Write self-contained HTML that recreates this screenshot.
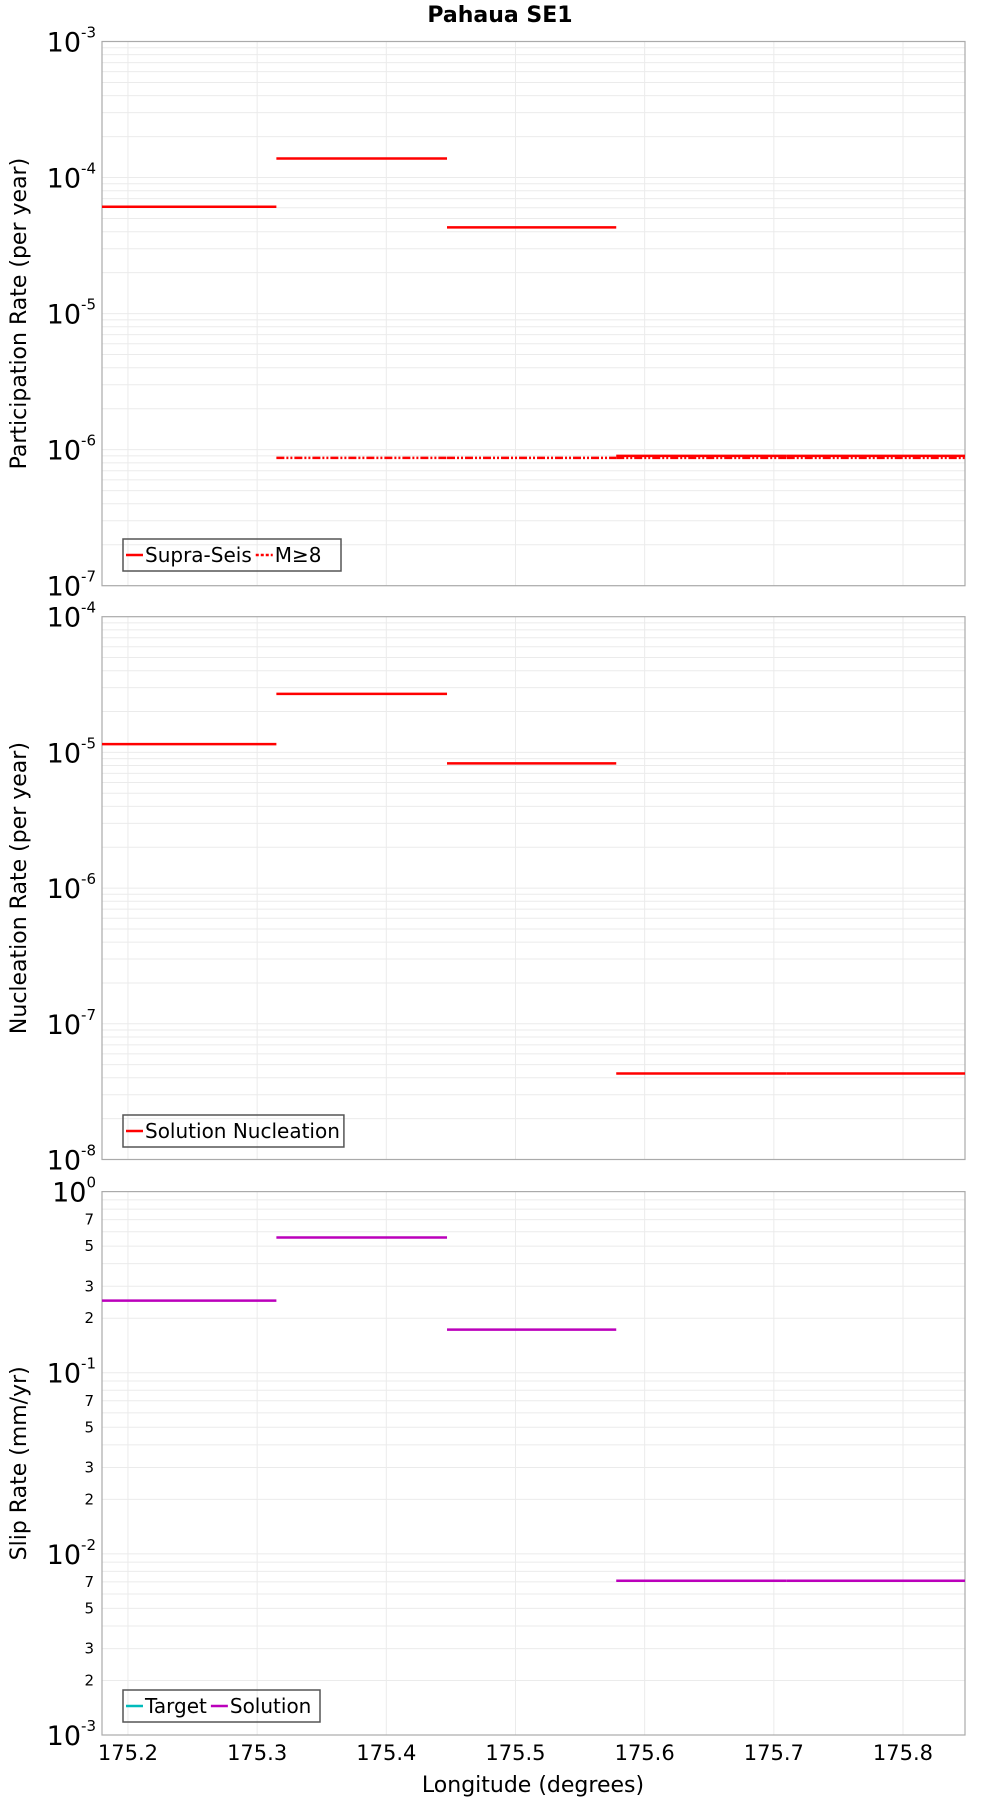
<!DOCTYPE html>
<html><head><meta charset="utf-8"><style>
html,body{margin:0;padding:0;background:#fff;}
svg{display:block;font-family:"DejaVu Sans","Liberation Sans",sans-serif;}
</style></head><body>
<svg id="chart" width="1000" height="1800" viewBox="0 0 1000 1800" xmlns="http://www.w3.org/2000/svg">
<text x="500" y="22" text-anchor="middle" font-weight="bold" font-size="22">Pahaua SE1</text>
<text x="533" y="1792" text-anchor="middle" font-size="22">Longitude (degrees)</text>
</svg>
<script>
// data
const xBreaks = [175.1799, 175.3149, 175.447, 175.578, 175.71, 175.848];
const xTicks = [175.2, 175.3, 175.4, 175.5, 175.6, 175.7, 175.8];
const partSupra = [6.1e-5, 1.38e-4, 4.3e-5, 9.0e-7, 9.0e-7];
const partM8 = [null, 8.7e-7, 8.7e-7, 8.7e-7, 8.7e-7];
const nuclSolution = [1.15e-5, 2.7e-5, 8.3e-6, 4.3e-8, 4.3e-8];
const slipSolution = [0.25, 0.558, 0.173, 0.0071, 0.0071];

const NS = "http://www.w3.org/2000/svg";
const svg = document.getElementById('chart');
const L = 102, R = 965;
const X0 = 175.1799, X1 = 175.848;
function xs(v){ return L + (v - X0) / (X1 - X0) * (R - L); }
function mk(tag, attrs, parent){
  const e = document.createElementNS(NS, tag);
  for (const k in attrs) e.setAttribute(k, attrs[k]);
  (parent || svg).appendChild(e);
  return e;
}

const panels = [
  {top:41.5, bot:585.7, emin:-7, emax:-3, ylabel:'Participation Rate (per year)', minorLabels:false,
   series:[{vals:partSupra, color:'#f00', dash:null, name:'supra-seis'},{vals:partM8, color:'#f00', dash:'8,2,2,2,2,2', name:'m8'}],
   legend:{x:123,y:539,w:218,items:[['Supra-Seis','#f00',false],['M≥8','#f00',true]]}, pname:'participation'},
  {top:616.7, bot:1159.5, emin:-8, emax:-4, ylabel:'Nucleation Rate (per year)', minorLabels:false,
   series:[{vals:nuclSolution, color:'#f00', dash:null, name:'solution-nucleation'}],
   legend:{x:123,y:1115,w:220,items:[['Solution Nucleation','#f00',false]]}, pname:'nucleation'},
  {top:1191.6, bot:1735, emin:-3, emax:0, ylabel:'Slip Rate (mm/yr)', minorLabels:true,
   series:[{vals:slipSolution, color:'#b0b', dash:null, name:'slip-solution'}],
   legend:{x:123,y:1690,w:197,items:[['Target','#0bb',false],['Solution','#b0b',false]]}, pname:'slip'}
];

panels.forEach((p, pi) => {
  const g = mk('g', {});
  
  
  const ys = v => p.bot - (Math.log10(v) - p.emin) / (p.emax - p.emin) * (p.bot - p.top);
  for (let e = p.emin; e < p.emax; e++) {
    for (let m = 1; m <= 9; m++) {
      const y = ys(m * Math.pow(10, e));
      const gl = mk('line', {x1:L, x2:R, y1:y, y2:y, stroke:'#ebebeb', 'stroke-width':1}, g);
      
      
      if (m === 1) {
        const t = mk('text', {x:L-6, y:y+10, 'text-anchor':'end', 'font-size':27}, g);
        
        
        t.innerHTML = '10<tspan dy="-14" font-size="15">' + e + '</tspan>';
      } else if (p.minorLabels && [2,3,5,7].includes(m)) {
        const t = mk('text', {x:L-8, y:y+5, 'text-anchor':'end', 'font-size':15}, g);
        
        
        t.textContent = m;
      }
    }
  }
  const tt = mk('text', {x:L-6, y:p.top+10, 'text-anchor':'end', 'font-size':27}, g);
  
  
  tt.innerHTML = '10<tspan dy="-14" font-size="15">' + p.emax + '</tspan>';
  xTicks.forEach(v => {
    const x = xs(v);
    const vl = mk('line', {x1:x, x2:x, y1:p.top, y2:p.bot, stroke:'#ebebeb', 'stroke-width':1}, g);
    
    
  });
  const fr = mk('rect', {x:L, y:p.top, width:R-L, height:p.bot-p.top, fill:'none', stroke:'#aaa', 'stroke-width':1.2}, g);
  
  
  const cy = (p.top + p.bot) / 2;
  const yl = mk('text', {x:0, y:0, transform:'translate(26,' + cy + ') rotate(-90)', 'text-anchor':'middle', 'font-size':22}, g);
  
  
  yl.textContent = p.ylabel;
  p.series.forEach(s => {
    s.vals.forEach((v, i) => {
      if (v == null) return;
      const y = ys(v);
      const a = {x1:xs(xBreaks[i]), x2:xs(xBreaks[i+1]), y1:y, y2:y, stroke:s.color, 'stroke-width':2.5};
      if (s.dash) a['stroke-dasharray'] = s.dash;
      const ln = mk('line', a, g);
      
      
    });
  });
  const lg = p.legend;
  const items = [];
  let lx = lg.x + 3;
  lg.items.forEach(it => {
    const a = {x1:lx, x2:lx+17, y1:lg.y+16, y2:lg.y+16, stroke:it[1], 'stroke-width':2.5};
    if (it[2]) a['stroke-dasharray'] = '3,2';
    const sw = mk('line', a, g);
    
    
    const t = mk('text', {x:lx+19, y:lg.y+23, 'font-size':20}, g);
    
    
    t.textContent = it[0];
    lx += 19 + t.getComputedTextLength() + 4;
  });
  const lb = mk('rect', {x:lg.x, y:lg.y, width:Math.max(lg.w, lx - lg.x), height:32, fill:'none', stroke:'#555', 'stroke-width':1.5}, g);
  
  
});
xTicks.forEach(v => {
  const t = mk('text', {x:xs(v), y:1760, 'text-anchor':'middle', 'font-size':21});
  
  
  t.textContent = v.toFixed(1);
});
</script>
</body></html>
